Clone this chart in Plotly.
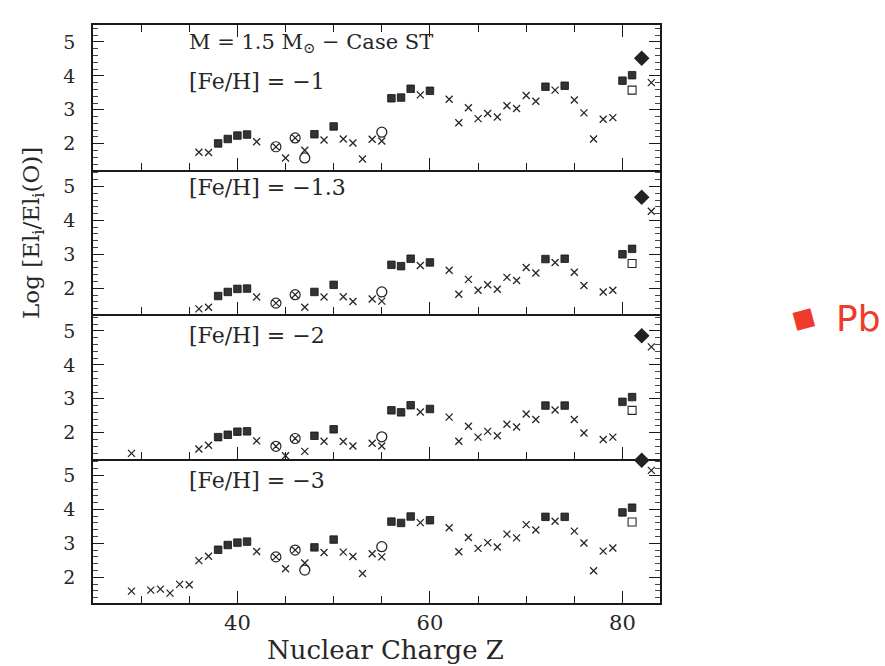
import plotly.graph_objects as go

# ---------------- data ----------------
panel_labels = ["[Fe/H] = \u22121", "[Fe/H] = \u22121.3", "[Fe/H] = \u22122", "[Fe/H] = \u22123"]
header = "M = 1.5 M<sub>\u2299</sub> \u2212 Case ST"

# crosses
z_cross = [29, 31, 32, 33, 34, 35, 36, 37, 42, 45, 47, 49, 51, 52, 53, 54, 55, 59,
           62, 63, 64, 65, 66, 67, 68, 69, 70, 71, 73, 75, 76, 77, 78, 79, 83]
cross_p1 = [None, None, None, None, None, None, 1.75, 1.74, 2.06, 1.58, 1.81, 2.11, 2.14, 2.02, 1.55, 2.13, 2.08, 3.44,
            3.31, 2.62, 3.06, 2.74, 2.89, 2.79, 3.12, 3.04, 3.42, 3.25, 3.58, 3.29, 2.91, 2.14, 2.72, 2.77, 3.80]
cross_p2 = [None, None, None, None, None, None, 1.39, 1.44, 1.74, None, 1.44, 1.74, 1.75, 1.61, None, 1.68, 1.62, 2.67,
            2.53, 1.82, 2.26, 1.94, 2.10, 1.97, 2.32, 2.23, 2.61, 2.45, 2.76, 2.47, 2.08, None, 1.89, 1.94, 4.27]
cross_p3 = [1.39, None, None, None, None, None, 1.52, 1.63, 1.76, 1.32, 1.45, 1.75, 1.74, 1.61, None, 1.69, 1.61, 2.61,
            2.46, 1.75, 2.19, 1.87, 2.04, 1.91, 2.25, 2.17, 2.55, 2.39, 2.67, 2.39, 1.99, None, 1.80, 1.87, 4.53]
cross_p4 = [1.59, 1.62, 1.65, 1.53, 1.79, 1.78, 2.49, 2.62, 2.76, 2.25, 2.42, 2.73, 2.74, 2.61, 2.11, 2.69, 2.60, 3.61,
            3.46, 2.75, 3.17, 2.85, 3.02, 2.89, 3.27, 3.16, 3.55, 3.39, 3.65, 3.36, 3.01, 2.19, 2.77, 2.86, 5.15]

# filled squares
z_sq = [38, 39, 40, 41, 48, 50, 56, 57, 58, 60, 72, 74, 80, 81]
sq_p1 = [2.01, 2.14, 2.24, 2.27, 2.28, 2.51, 3.34, 3.36, 3.62, 3.56, 3.68, 3.71, 3.86, 4.02]
sq_p2 = [1.77, 1.89, 1.98, 1.99, 1.89, 2.10, 2.69, 2.65, 2.87, 2.76, 2.86, 2.87, 3.00, 3.16]
sq_p3 = [1.87, 1.94, 2.03, 2.04, 1.91, 2.10, 2.66, 2.60, 2.81, 2.70, 2.80, 2.80, 2.91, 3.05]
sq_p4 = [2.81, 2.95, 3.02, 3.05, 2.88, 3.11, 3.64, 3.60, 3.79, 3.68, 3.78, 3.78, 3.91, 4.05]

# circled crosses
z_cx = [44, 46]
cx_p1 = [1.91, 2.17]
cx_p2 = [1.56, 1.81]
cx_p3 = [1.60, 1.83]
cx_p4 = [2.60, 2.80]

# open circles
z_oc = [47, 55]
oc_p1 = [1.58, 2.34]
oc_p2 = [None, 1.89]
oc_p3 = [None, 1.88]
oc_p4 = [2.21, 2.90]

# open square (Z=81)
z_os = [81]
os_p = [[3.58], [2.73], [2.66], [3.63]]

# diamond (Pb, Z=82)
z_pb = [82]
pb_p = [[4.52], [4.68], [4.86], [5.45]]

cross_all = [cross_p1, cross_p2, cross_p3, cross_p4]
sq_all = [sq_p1, sq_p2, sq_p3, sq_p4]
cx_all = [cx_p1, cx_p2, cx_p3, cx_p4]
oc_all = [oc_p1, oc_p2, oc_p3, oc_p4]

x_range = [25, 83.9]
y_range = [1.24, 5.5]
x_ticks = [40, 60, 80]
y_ticks = [2, 3, 4, 5]

# ---------------- figure ----------------
INK = "#262626"
FONT = "DejaVu Serif"
fig = go.Figure()

for p in range(4):
    xa = "x" if p == 0 else f"x{p+1}"
    ya = "y" if p == 0 else f"y{p+1}"
    fig.add_trace(go.Scatter(x=z_cross, y=cross_all[p], xaxis=xa, yaxis=ya, mode="markers",
                             marker=dict(symbol="x-thin-open", size=7, color=INK,
                                         line=dict(width=1.3, color=INK)),
                             showlegend=False, cliponaxis=False))
    fig.add_trace(go.Scatter(x=z_sq, y=sq_all[p], xaxis=xa, yaxis=ya, mode="markers",
                             marker=dict(symbol="square", size=7.5, color="#333333",
                                         line=dict(width=0.8, color="#111111")),
                             showlegend=False))
    fig.add_trace(go.Scatter(x=z_cx, y=cx_all[p], xaxis=xa, yaxis=ya, mode="markers",
                             marker=dict(symbol="circle-x-open", size=10, color=INK,
                                         line=dict(width=1.2, color=INK)),
                             showlegend=False))
    fig.add_trace(go.Scatter(x=z_oc, y=oc_all[p], xaxis=xa, yaxis=ya, mode="markers",
                             marker=dict(symbol="circle-open", size=10, color=INK,
                                         line=dict(width=1.3, color=INK)),
                             showlegend=False))
    fig.add_trace(go.Scatter(x=z_os, y=os_p[p], xaxis=xa, yaxis=ya, mode="markers",
                             marker=dict(symbol="square-open", size=8, color=INK,
                                         line=dict(width=1.1, color=INK)),
                             showlegend=False))
    fig.add_trace(go.Scatter(x=z_pb, y=pb_p[p], xaxis=xa, yaxis=ya, mode="markers",
                             marker=dict(symbol="diamond", size=12, color="#222222"),
                             showlegend=False, cliponaxis=False))

layout = dict(
    width=885, height=666,
    margin=dict(l=93, r=225, t=25, b=63),
    paper_bgcolor="white", plot_bgcolor="white",
    font=dict(family=FONT, color=INK, size=19),
    showlegend=False,
)

for p in range(4):
    key_x = "xaxis" if p == 0 else f"xaxis{p+1}"
    key_y = "yaxis" if p == 0 else f"yaxis{p+1}"
    ya = "y" if p == 0 else f"y{p+1}"
    top = 1 - p * 0.25
    bottom = top - 0.25
    layout[key_x] = dict(
        range=x_range, anchor=ya, domain=[0, 1],
        showline=True, linecolor="#1a1a1a", linewidth=1.7,
        mirror="ticks" if p == 0 else False,
        ticks="inside", ticklen=12, tickwidth=1.2, tickcolor="#1a1a1a",
        tickvals=x_ticks, showticklabels=(p == 3),
        tickfont=dict(family=FONT, size=21, color=INK), ticklabelstandoff=0,
        minor=dict(dtick=5, tick0=0, ticks="inside", ticklen=7, tickwidth=1.0, tickcolor="#1a1a1a"),
        showgrid=False, zeroline=False,
    )
    layout[key_y] = dict(
        range=y_range, domain=[bottom, top], anchor="x" if p == 0 else f"x{p+1}",
        showline=True, linecolor="#1a1a1a", linewidth=1.7, mirror="ticks",
        ticks="inside", ticklen=11, tickwidth=1.2, tickcolor="#1a1a1a",
        tickvals=y_ticks, ticktext=[str(v) for v in y_ticks],
        tickfont=dict(family=FONT, size=19, color=INK), ticklabelstandoff=12,
        minor=dict(dtick=0.2, tick0=0, ticks="inside", ticklen=5, tickwidth=0.9, tickcolor="#444444"),
        showgrid=False, zeroline=False,
    )

fig.update_layout(**layout)

annotations = []
label_y = [3.82, 4.96, 4.88, 4.84]
for p in range(4):
    xr = "x" if p == 0 else f"x{p+1}"
    yr = "y" if p == 0 else f"y{p+1}"
    annotations.append(dict(x=34.8, y=label_y[p], xref=xr, yref=yr, text=panel_labels[p],
                            showarrow=False, xanchor="left", yanchor="middle",
                            font=dict(family=FONT, size=22, color=INK)))
annotations.append(dict(x=34.8, y=4.98, xref="x", yref="y", text=header,
                        showarrow=False, xanchor="left", yanchor="middle",
                        font=dict(family=FONT, size=21, color=INK)))
annotations.append(dict(x=0.515, y=-0.082, xref="paper", yref="paper", text="Nuclear Charge Z",
                        showarrow=False, xanchor="center", yanchor="middle",
                        font=dict(family=FONT, size=26, color=INK)))
annotations.append(dict(x=-0.106, y=0.64, xref="paper", yref="paper",
                        text="Log [El<sub>i</sub>/El<sub>i</sub>(O)]", textangle=-90,
                        showarrow=False, xanchor="center", yanchor="middle",
                        font=dict(family=FONT, size=23, color=INK)))
# handwritten red note
annotations.append(dict(x=(803 - 93) / 567, y=(603 - 318) / 578, xref="paper", yref="paper",
                        text="\u25a0", textangle=-15, showarrow=False, xanchor="center", yanchor="middle",
                        font=dict(family="DejaVu Sans", size=24, color="#ee3b2b")))
annotations.append(dict(x=(858 - 93) / 567, y=(603 - 318) / 578, xref="paper", yref="paper",
                        text="Pb", showarrow=False, xanchor="center", yanchor="middle",
                        font=dict(family="DejaVu Sans", size=36, color="#ee3b2b")))
fig.update_layout(annotations=annotations)

fig.write_html("out.html")
